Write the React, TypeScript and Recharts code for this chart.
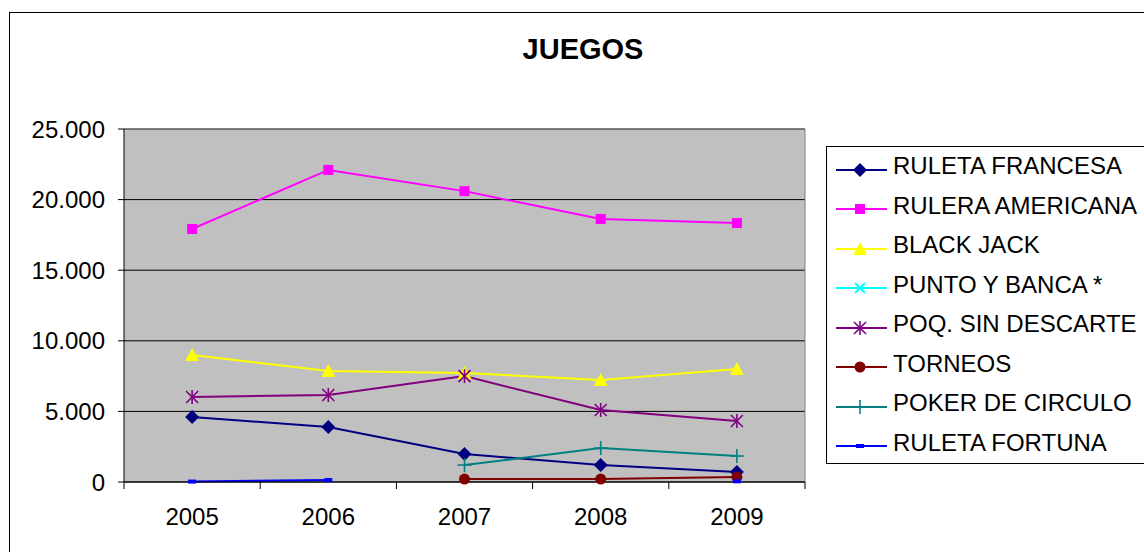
import React from 'react';
import { LineChart, Line, XAxis, YAxis, CartesianGrid, ReferenceLine } from 'recharts';

const YEARS = [2005, 2006, 2007, 2008, 2009];
const RULETA_FRANCESA = [4600, 3900, 1980, 1200, 700];
const RULERA_AMERICANA = [17920, 22100, 20600, 18630, 18340];
const BLACK_JACK = [9000, 7860, 7720, 7220, 8000];
const PUNTO_Y_BANCA: (number | null)[] = [null, null, null, null, null];
const POQ_SIN_DESCARTE = [6020, 6160, 7500, 5100, 4320];
const TORNEOS = [null, null, 210, 210, 350];
const POKER_DE_CIRCULO = [null, null, 1200, 2400, 1840];
const RULETA_FORTUNA = [30, 140, null, null, 50];
const Y_TICKS = [0, 5000, 10000, 15000, 20000, 25000];

const FONT = '"Liberation Sans", Arial, sans-serif';

const SERIES = [
  { key: 'rf', name: 'RULETA FRANCESA', color: '#000080', shape: 'diamond', values: RULETA_FRANCESA },
  { key: 'ra', name: 'RULERA AMERICANA', color: '#FF00FF', shape: 'square', values: RULERA_AMERICANA },
  { key: 'bj', name: 'BLACK JACK', color: '#FFFF00', shape: 'triangle', values: BLACK_JACK },
  { key: 'pb', name: 'PUNTO Y BANCA *', color: '#00FFFF', shape: 'x', values: PUNTO_Y_BANCA },
  { key: 'ps', name: 'POQ. SIN DESCARTE', color: '#800080', shape: 'star', values: POQ_SIN_DESCARTE },
  { key: 'to', name: 'TORNEOS', color: '#800000', shape: 'circle', values: TORNEOS },
  { key: 'pc', name: 'POKER DE CIRCULO', color: '#008080', shape: 'plus', values: POKER_DE_CIRCULO },
  { key: 'fo', name: 'RULETA FORTUNA', color: '#0000FF', shape: 'dash', values: RULETA_FORTUNA },
];

const data = YEARS.map((year, i) => {
  const row: any = { year };
  SERIES.forEach((s) => { row[s.key] = s.values[i]; });
  return row;
});

const W = 1144;
const H = 552;
const MARGIN = { top: 129, right: 339, bottom: 20, left: 0 };
const Y_W = 124;
const PLOT_W = W - Y_W - MARGIN.right;
const HALF_BAND = PLOT_W / YEARS.length / 2;

// dibuja el marcador de cada serie
const Marker = ({ shape, color, cx, cy }: any) => {
  switch (shape) {
    case 'diamond':
      return <polygon points={`${cx},${cy - 7} ${cx + 7},${cy} ${cx},${cy + 7} ${cx - 7},${cy}`} fill={color} />;
    case 'square':
      return <rect x={cx - 5} y={cy - 5} width={10} height={10} fill={color} />;
    case 'triangle':
      return <polygon points={`${cx},${cy - 7} ${cx + 7},${cy + 6} ${cx - 7},${cy + 6}`} fill={color} />;
    case 'x':
      return <g stroke={color} strokeWidth={2}><line x1={cx - 5} y1={cy - 5} x2={cx + 5} y2={cy + 5} /><line x1={cx - 5} y1={cy + 5} x2={cx + 5} y2={cy - 5} /></g>;
    case 'star':
      return (
        <g stroke={color} strokeWidth={1.6}>
          <line x1={cx - 6} y1={cy - 6} x2={cx + 6} y2={cy + 6} />
          <line x1={cx - 6} y1={cy + 6} x2={cx + 6} y2={cy - 6} />
          <line x1={cx} y1={cy - 7} x2={cx} y2={cy + 7} />
        </g>
      );
    case 'circle':
      return <circle cx={cx} cy={cy} r={5.5} fill={color} />;
    case 'plus':
      return <g stroke={color} strokeWidth={1.6}><line x1={cx - 7} y1={cy} x2={cx + 7} y2={cy} /><line x1={cx} y1={cy - 7} x2={cx} y2={cy + 7} /></g>;
    case 'dash':
      return <rect x={cx - 4} y={cy - 2} width={8} height={4} fill={color} />;
    default:
      return null;
  }
};

const makeDot = (s: any) => (props: any) => {
  const { cx, cy, value, index } = props;
  if (value == null || cx == null || cy == null) return <g key={`${s.key}-${index}`} />;
  return <Marker key={`${s.key}-${index}`} shape={s.shape} color={s.color} cx={cx} cy={cy} />;
};

const XTick = ({ x, y, payload, index }: any) => (
  <g>
    <line x1={x - HALF_BAND} y1={y} x2={x - HALF_BAND} y2={y + 7} stroke="#000" />
    {index === YEARS.length - 1 && <line x1={x + HALF_BAND} y1={y} x2={x + HALF_BAND} y2={y + 7} stroke="#000" />}
    <text x={x} y={y + 26} dy="0.71em" textAnchor="middle" fill="#000" fontSize={24} fontFamily={FONT}>
      {payload.value}
    </text>
  </g>
);

const LegendBox = () => (
  <div style={{ position: 'absolute', left: 826, top: 146, border: '1px solid #000', background: '#fff', width: 340, height: 318, paddingTop: 3, boxSizing: 'border-box', fontFamily: FONT }}>
    {SERIES.map((s) => (
      <div key={s.key} style={{ display: 'flex', alignItems: 'center', height: 39.5 }}>
        <svg width={66} height={20} style={{ flex: 'none' }}>
          <line x1={9} y1={10} x2={60} y2={10} stroke={s.color} strokeWidth={2} />
          <Marker shape={s.shape} color={s.color} cx={33} cy={10} />
        </svg>
        <span style={{ position: 'relative', top: -3.5, fontSize: 24, color: '#000', whiteSpace: 'nowrap' }}>{s.name}</span>
      </div>
    ))}
  </div>
);

export default function App() {
  return (
    <div style={{ position: 'fixed', left: 0, top: 0, width: W, height: H, overflow: 'hidden', background: '#fff' }}>
      <div style={{ position: 'absolute', left: 9, top: 12, width: 1300, height: 700, border: '1px solid #000' }} />
      <div style={{ position: 'absolute', left: 383, top: 32, width: 400, textAlign: 'center', fontFamily: FONT, fontWeight: 'bold', fontSize: 29, lineHeight: '34px' }}>
        JUEGOS
      </div>
      <div style={{ position: 'absolute', left: 0, top: 0 }}>
        <LineChart width={W} height={H} data={data} margin={MARGIN}>
          <CartesianGrid vertical={false} stroke="#000" fill="#C0C0C0" fillOpacity={1} />
          <XAxis
            dataKey="year"
            type="number"
            domain={[YEARS[0] - 0.5, YEARS[YEARS.length - 1] + 0.5]}
            ticks={YEARS}
            height={50}
            tickSize={0}
            tickMargin={0}
            tickLine={false}
            axisLine={{ stroke: '#000' }}
            tick={<XTick />}
          />
          <YAxis
            width={Y_W}
            domain={[0, 25000]}
            ticks={Y_TICKS}
            tickSize={6}
            tickMargin={13}
            axisLine={{ stroke: '#000' }}
            tickLine={{ stroke: '#000' }}
            tick={{ fill: '#000', fontSize: 24, fontFamily: FONT }}
            tickFormatter={(v: number) => v.toString().replace(/\B(?=(\d{3})+(?!\d))/g, '.')}
          />
          <ReferenceLine y={25000} stroke="#808080" />
          <ReferenceLine x={YEARS[YEARS.length - 1] + 0.5} stroke="#808080" />
          {SERIES.map((s) => (
            <Line
              key={s.key}
              dataKey={s.key}
              name={s.name}
              stroke={s.color}
              strokeWidth={2}
              type="linear"
              dot={makeDot(s)}
              activeDot={false}
              connectNulls={false}
              isAnimationActive={false}
            />
          ))}
        </LineChart>
      </div>
      <LegendBox />
    </div>
  );
}
